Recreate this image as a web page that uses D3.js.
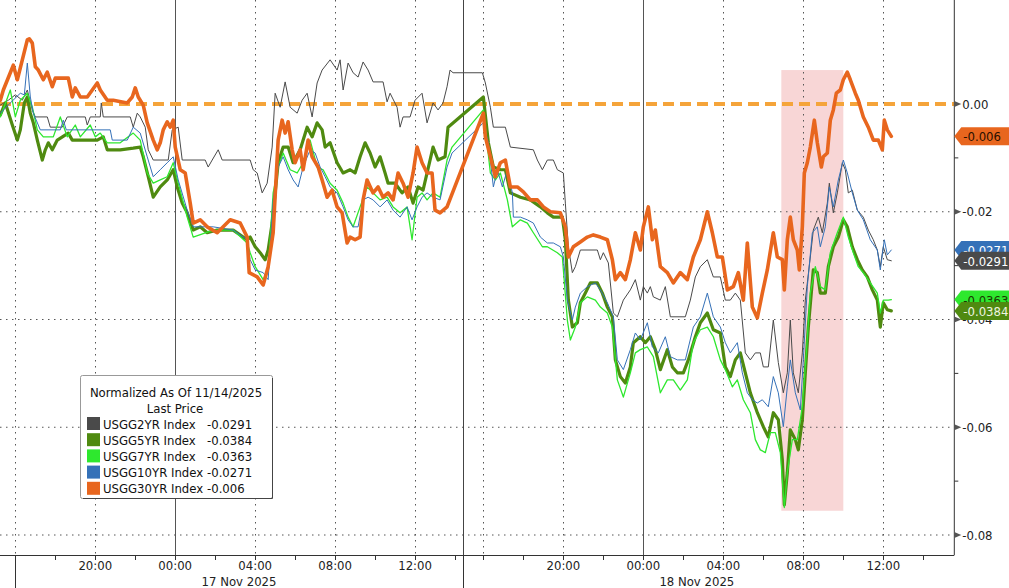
<!DOCTYPE html>
<html><head><meta charset="utf-8">
<script src="https://cdn.jsdelivr.net/npm/d3@7"></script>
<style>
html,body{margin:0;padding:0;background:#fff;}
svg{display:block;font-family:"DejaVu Sans Condensed","DejaVu Sans",sans-serif;font-stretch:condensed;}
</style></head><body>
<svg id="chart" width="1009" height="588"></svg>
<script>
// time = minutes from 17 Nov 2025 00:00 ; value = normalized change since 11/14/2025
const usgg2yr = [[-525,-0.0002],[-501,0.0007],[-480,0.0017],[-459,0.0007],[-444,0.0026],[-429,-0.0011],[-420,-0.0024],[-384,-0.0024],[-375,-0.0043],[-339,-0.0043],[-324,-0.0024],[-270,-0.0024],[-264,-0.0039],[-255,-0.0024],[-225,-0.0024],[-222,0.0002],[-216,-0.0024],[-135,-0.0024],[-126,-0.0043],[-114,-0.0017],[-105,-0.0024],[-90,-0.0043],[-81,-0.0085],[-66,-0.0104],[-21,-0.0104],[-9,-0.0048],[9,-0.0043],[21,-0.0104],[90,-0.0104],[99,-0.0117],[111,-0.0104],[129,-0.0085],[141,-0.0104],[225,-0.0104],[234,-0.0122],[246,-0.0128],[261,-0.0165],[276,-0.0147],[291,-0.0080],[300,0.0020],[315,-0.0006],[330,0.0041],[345,-0.0006],[366,-0.0017],[381,0.0007],[396,0.0020],[411,-0.0024],[426,0.0039],[441,0.0063],[465,0.0082],[486,0.0063],[495,0.0082],[504,0.0026],[519,0.0076],[534,0.0058],[549,0.0050],[564,0.0078],[579,0.0063],[594,0.0041],[624,0.0041],[636,0.0004],[645,0.0020],[666,-0.0006],[675,-0.0043],[684,-0.0024],[705,-0.0024],[720,0.0007],[741,0.0020],[756,-0.0035],[774,0.0002],[789,-0.0011],[804,0.0002],[816,0.0032],[825,0.0063],[834,0.0058],
[957,0.0058],[966,0.0039],[981,-0.0006],[990,-0.0043],[1026,-0.0043],[1041,-0.0080],[1110,-0.0085],[1122,-0.0104],[1137,-0.0122],[1152,-0.0104],[1170,-0.0104],[1182,-0.0122],[1200,-0.0128],[1206,-0.0184],[1215,-0.0265],[1227,-0.0313],[1236,-0.0302],[1251,-0.0271],[1302,-0.0271],[1311,-0.0289],[1320,-0.0276],[1335,-0.0295],[1350,-0.0388],[1362,-0.0395],[1380,-0.0364],[1401,-0.0345],[1416,-0.0326],[1431,-0.0364],[1440,-0.0339],[1452,-0.0351],[1461,-0.0339],[1470,-0.0358],[1491,-0.0364],[1506,-0.0339],[1521,-0.0395],[1566,-0.0395],[1581,-0.0364],[1596,-0.0321],[1611,-0.0302],[1632,-0.0289],[1650,-0.0321],[1671,-0.0321],[1686,-0.0364],[1701,-0.0364],[1716,-0.0351],[1731,-0.0364],[1746,-0.0462],[1761,-0.0475],[1776,-0.0462],[1791,-0.0462],[1800,-0.0488],[1815,-0.0488],[1830,-0.0401],[1845,-0.0480],[1860,-0.0536],[1872,-0.0499],[1881,-0.0401],[1890,-0.0499],[1905,-0.0536],[1917,-0.0462],[1926,-0.0364],[1941,-0.0284],[1950,-0.0234],[1965,-0.0210],[1977,-0.0239],[1992,-0.0184],[1998,-0.0147],[2010,-0.0202],[2022,-0.0165],[2037,-0.0109],[2046,-0.0122],[2055,-0.0165],[2067,-0.0160],[2082,-0.0197],[2100,-0.0210],[2115,-0.0234],[2130,-0.0252],[2142,-0.0271],[2151,-0.0302],[2160,-0.0265],[2172,-0.0289],[2184,-0.0291]];

const usgg5yr = [[-525,-0.0020],[-510,0.0002],[-489,-0.0039],[-474,-0.0067],[-465,-0.0048],[-453,0.0002],[-444,0.0013],[-435,-0.0017],[-426,-0.0035],[-414,-0.0067],[-399,-0.0104],[-390,-0.0085],[-381,-0.0072],[-369,-0.0085],[-354,-0.0067],[-321,-0.0054],[-309,-0.0067],[-234,-0.0067],[-216,-0.0061],[-204,-0.0085],[-165,-0.0085],[-126,-0.0082],[-105,-0.0080],[-96,-0.0098],[-81,-0.0135],[-66,-0.0173],[-45,-0.0154],[-24,-0.0141],[-6,-0.0122],[6,-0.0154],[21,-0.0184],[36,-0.0202],[54,-0.0234],[75,-0.0228],[96,-0.0239],[126,-0.0234],[174,-0.0234],[216,-0.0252],[225,-0.0247],[240,-0.0265],[255,-0.0276],[270,-0.0289],[279,-0.0271],[291,-0.0221],[300,-0.0165],[309,-0.0109],[324,-0.0080],[339,-0.0080],[354,-0.0109],[375,-0.0085],[396,-0.0043],[411,-0.0061],[426,-0.0035],[441,-0.0048],[450,-0.0080],[465,-0.0072],[486,-0.0109],[504,-0.0128],[525,-0.0122],[540,-0.0128],[555,-0.0098],[570,-0.0072],[585,-0.0091],[600,-0.0117],[615,-0.0098],[630,-0.0128],[639,-0.0147],[660,-0.0147],[681,-0.0165],[699,-0.0154],[714,-0.0184],[729,-0.0154],[744,-0.0160],[765,-0.0104],[774,-0.0080],[789,-0.0104],[810,-0.0098],[819,-0.0043],
[960,0.0013],[975,-0.0072],[990,-0.0117],[1011,-0.0122],[1026,-0.0122],[1041,-0.0165],[1071,-0.0173],[1101,-0.0178],[1131,-0.0191],[1152,-0.0202],[1170,-0.0210],[1197,-0.0210],[1206,-0.0252],[1215,-0.0364],[1227,-0.0414],[1242,-0.0406],[1251,-0.0369],[1266,-0.0351],[1281,-0.0332],[1302,-0.0332],[1317,-0.0351],[1332,-0.0377],[1347,-0.0395],[1356,-0.0475],[1371,-0.0506],[1386,-0.0518],[1401,-0.0488],[1410,-0.0443],[1431,-0.0432],[1446,-0.0443],[1461,-0.0432],[1476,-0.0456],[1491,-0.0493],[1512,-0.0456],[1527,-0.0488],[1542,-0.0499],[1560,-0.0499],[1575,-0.0475],[1596,-0.0432],[1611,-0.0406],[1632,-0.0388],[1650,-0.0419],[1671,-0.0425],[1686,-0.0488],[1701,-0.0506],[1716,-0.0475],[1731,-0.0462],[1746,-0.0499],[1761,-0.0536],[1782,-0.0573],[1800,-0.0599],[1815,-0.0618],[1830,-0.0573],[1845,-0.0586],[1857,-0.0660],[1863,-0.0744],[1872,-0.0684],[1881,-0.0605],[1896,-0.0623],[1905,-0.0642],[1917,-0.0586],[1926,-0.0499],[1935,-0.0414],[1950,-0.0308],[1962,-0.0313],[1971,-0.0351],[1986,-0.0351],[1995,-0.0302],[2010,-0.0265],[2025,-0.0247],[2040,-0.0215],[2052,-0.0228],[2067,-0.0265],[2082,-0.0289],[2097,-0.0308],[2112,-0.0321],[2127,-0.0345],[2142,-0.0364],[2151,-0.0414],[2160,-0.0369],[2172,-0.0382],[2184,-0.0384]];

const usgg7yr = [[-525,-0.0024],[-495,0.0026],[-480,-0.0024],[-465,0.0007],[-444,0.0020],[-429,-0.0006],[-414,-0.0048],[-396,-0.0061],[-366,-0.0061],[-345,-0.0024],[-324,-0.0061],[-300,-0.0039],[-285,-0.0061],[-255,-0.0039],[-240,-0.0061],[-225,-0.0054],[-204,-0.0072],[-165,-0.0072],[-126,-0.0054],[-105,-0.0067],[-84,-0.0128],[-66,-0.0147],[-45,-0.0141],[-24,-0.0135],[-6,-0.0109],[9,-0.0147],[36,-0.0210],[54,-0.0247],[114,-0.0234],[174,-0.0234],[216,-0.0258],[225,-0.0276],[240,-0.0302],[264,-0.0326],[279,-0.0308],[294,-0.0165],[309,-0.0117],[324,-0.0091],[345,-0.0122],[366,-0.0128],[384,-0.0109],[405,-0.0067],[426,-0.0117],[444,-0.0122],[465,-0.0147],[486,-0.0160],[504,-0.0184],[519,-0.0210],[534,-0.0228],[555,-0.0191],[576,-0.0154],[594,-0.0165],[615,-0.0178],[636,-0.0173],[654,-0.0191],[675,-0.0202],[696,-0.0191],[711,-0.0252],[726,-0.0173],[741,-0.0165],[756,-0.0178],[774,-0.0165],[795,-0.0173],[816,-0.0104],[831,-0.0080],
[960,-0.0011],[981,-0.0128],[996,-0.0141],[1011,-0.0128],[1032,-0.0178],[1047,-0.0228],[1071,-0.0215],[1092,-0.0221],[1110,-0.0239],[1137,-0.0265],[1152,-0.0265],[1182,-0.0276],[1197,-0.0284],[1212,-0.0401],[1221,-0.0438],[1236,-0.0414],[1251,-0.0369],[1272,-0.0358],[1296,-0.0364],[1311,-0.0377],[1332,-0.0388],[1347,-0.0414],[1362,-0.0512],[1380,-0.0544],[1401,-0.0499],[1416,-0.0462],[1431,-0.0456],[1452,-0.0451],[1470,-0.0469],[1491,-0.0536],[1512,-0.0512],[1530,-0.0512],[1551,-0.0531],[1572,-0.0512],[1590,-0.0443],[1611,-0.0419],[1632,-0.0414],[1650,-0.0432],[1671,-0.0475],[1686,-0.0493],[1707,-0.0525],[1722,-0.0512],[1740,-0.0549],[1761,-0.0573],[1776,-0.0623],[1791,-0.0642],[1806,-0.0647],[1821,-0.0610],[1836,-0.0610],[1851,-0.0647],[1863,-0.0749],[1872,-0.0684],[1887,-0.0623],[1902,-0.0623],[1917,-0.0562],[1929,-0.0462],[1941,-0.0351],[1956,-0.0302],[1971,-0.0339],[1986,-0.0345],[2001,-0.0276],[2022,-0.0239],[2040,-0.0210],[2055,-0.0247],[2070,-0.0276],[2085,-0.0302],[2100,-0.0313],[2121,-0.0332],[2142,-0.0351],[2151,-0.0388],[2160,-0.0364],[2175,-0.0364],[2184,-0.0363]];

const usgg10yr = [[-525,-0.0017],[-495,0.0002],[-465,0.0020],[-453,0.0017],[-444,0.0076],[-435,0.0013],[-426,-0.0017],[-405,-0.0048],[-345,-0.0048],[-336,-0.0030],[-327,-0.0048],[-195,-0.0048],[-189,-0.0067],[-144,-0.0067],[-126,-0.0043],[-105,-0.0054],[-84,-0.0098],[-66,-0.0135],[-45,-0.0122],[-24,-0.0109],[-6,-0.0098],[9,-0.0141],[36,-0.0197],[54,-0.0228],[114,-0.0228],[174,-0.0234],[216,-0.0252],[225,-0.0289],[240,-0.0308],[264,-0.0313],[279,-0.0326],[294,-0.0178],[309,-0.0117],[324,-0.0098],[339,-0.0122],[354,-0.0141],[369,-0.0154],[384,-0.0117],[405,-0.0085],[420,-0.0091],[435,-0.0117],[450,-0.0135],[465,-0.0154],[486,-0.0165],[504,-0.0191],[519,-0.0215],[534,-0.0228],[549,-0.0228],[564,-0.0178],[579,-0.0173],[594,-0.0178],[615,-0.0191],[636,-0.0178],[654,-0.0197],[675,-0.0210],[696,-0.0191],[711,-0.0215],[726,-0.0191],[741,-0.0173],[756,-0.0165],[774,-0.0173],[795,-0.0178],[816,-0.0117],[831,-0.0091],
[960,-0.0035],[975,-0.0072],[990,-0.0154],[1002,-0.0122],[1017,-0.0154],[1032,-0.0122],[1047,-0.0165],[1050,-0.0210],[1071,-0.0210],[1092,-0.0215],[1110,-0.0221],[1131,-0.0247],[1152,-0.0258],[1170,-0.0258],[1191,-0.0265],[1200,-0.0284],[1212,-0.0364],[1227,-0.0401],[1236,-0.0377],[1251,-0.0351],[1272,-0.0339],[1296,-0.0332],[1311,-0.0345],[1332,-0.0369],[1350,-0.0395],[1362,-0.0475],[1380,-0.0493],[1401,-0.0456],[1416,-0.0425],[1431,-0.0438],[1452,-0.0406],[1467,-0.0451],[1485,-0.0462],[1506,-0.0432],[1521,-0.0469],[1542,-0.0475],[1566,-0.0475],[1590,-0.0414],[1611,-0.0395],[1632,-0.0351],[1650,-0.0395],[1671,-0.0414],[1686,-0.0443],[1701,-0.0462],[1722,-0.0443],[1737,-0.0499],[1752,-0.0536],[1767,-0.0549],[1782,-0.0555],[1797,-0.0549],[1815,-0.0562],[1830,-0.0506],[1845,-0.0536],[1860,-0.0599],[1872,-0.0525],[1881,-0.0475],[1896,-0.0536],[1911,-0.0568],[1920,-0.0475],[1932,-0.0339],[1947,-0.0239],[1962,-0.0228],[1971,-0.0265],[1986,-0.0228],[1998,-0.0154],[2010,-0.0191],[2025,-0.0141],[2040,-0.0104],[2052,-0.0128],[2067,-0.0165],[2082,-0.0197],[2100,-0.0215],[2121,-0.0252],[2142,-0.0271],[2151,-0.0308],[2163,-0.0252],[2172,-0.0280],[2184,-0.0271]];

const usgg30yr = [[-525,0.0007],[-516,0.0026],[-486,0.0072],[-474,0.0045],[-459,0.0082],[-444,0.0119],[-438,0.0121],[-429,0.0113],[-420,0.0069],[-411,0.0063],[-396,0.0045],[-384,0.0059],[-369,0.0032],[-360,0.0048],[-321,0.0048],[-309,0.0013],[-300,0.0030],[-285,0.0013],[-264,0.0013],[-234,0.0039],[-225,0.0026],[-204,0.0007],[-186,0.0007],[-144,0.0002],[-129,0.0013],[-120,0.0030],[-111,0.0013],[-96,-0.0002],[-84,-0.0035],[-66,-0.0067],[-54,-0.0085],[-45,-0.0072],[-36,-0.0048],[-24,-0.0033],[-15,-0.0043],[-6,-0.0030],[0,-0.0080],[15,-0.0122],[30,-0.0128],[45,-0.0184],[54,-0.0221],[75,-0.0215],[96,-0.0228],[126,-0.0239],[165,-0.0215],[195,-0.0221],[216,-0.0247],[222,-0.0313],[246,-0.0321],[264,-0.0336],[279,-0.0302],[294,-0.0239],[309,-0.0067],[321,-0.0030],[330,-0.0054],[339,-0.0033],[351,-0.0085],[360,-0.0109],[375,-0.0085],[384,-0.0122],[399,-0.0067],[411,-0.0098],[429,-0.0117],[441,-0.0141],[456,-0.0173],[471,-0.0160],[486,-0.0191],[501,-0.0202],[516,-0.0258],[525,-0.0247],[540,-0.0252],[555,-0.0247],[564,-0.0178],[576,-0.0141],[594,-0.0165],[609,-0.0154],[624,-0.0173],[639,-0.0165],[654,-0.0178],[669,-0.0128],[684,-0.0147],[699,-0.0173],[714,-0.0128],[726,-0.0080],[741,-0.0109],[756,-0.0128],[771,-0.0128],[780,-0.0197],[795,-0.0202],[816,-0.0191],
[960,-0.0017],[966,-0.0061],[981,-0.0098],[996,-0.0135],[1011,-0.0109],[1026,-0.0104],[1041,-0.0154],[1062,-0.0154],[1080,-0.0163],[1101,-0.0178],[1122,-0.0178],[1140,-0.0191],[1161,-0.0200],[1191,-0.0202],[1206,-0.0228],[1215,-0.0284],[1230,-0.0265],[1251,-0.0256],[1272,-0.0247],[1290,-0.0243],[1311,-0.0247],[1332,-0.0252],[1347,-0.0289],[1356,-0.0326],[1371,-0.0313],[1386,-0.0326],[1401,-0.0289],[1416,-0.0239],[1431,-0.0271],[1440,-0.0228],[1455,-0.0191],[1467,-0.0252],[1476,-0.0234],[1491,-0.0302],[1512,-0.0313],[1530,-0.0332],[1551,-0.0313],[1572,-0.0326],[1590,-0.0284],[1611,-0.0252],[1632,-0.0200],[1647,-0.0239],[1662,-0.0284],[1677,-0.0284],[1692,-0.0345],[1710,-0.0339],[1725,-0.0313],[1740,-0.0364],[1752,-0.0258],[1767,-0.0377],[1782,-0.0397],[1797,-0.0351],[1812,-0.0308],[1830,-0.0239],[1842,-0.0284],[1857,-0.0289],[1863,-0.0345],[1872,-0.0252],[1881,-0.0210],[1890,-0.0252],[1902,-0.0271],[1908,-0.0308],[1917,-0.0228],[1923,-0.0128],[1932,-0.0109],[1941,-0.0080],[1953,-0.0030],[1962,-0.0072],[1974,-0.0117],[1980,-0.0098],[1992,-0.0091],[2001,-0.0030],[2010,-0.0011],[2019,0.0020],[2031,0.0026],[2040,0.0045],[2052,0.0059],[2061,0.0045],[2076,0.0020],[2085,0.0007],[2100,-0.0024],[2115,-0.0043],[2130,-0.0067],[2145,-0.0067],[2157,-0.0085],[2163,-0.0030],[2172,-0.0048],[2184,-0.0060]];

const seriesNames = ["USGG2YR Index","USGG5YR Index","USGG7YR Index","USGG10YR Index","USGG30YR Index"];
const lastPrices = [-0.0291,-0.0384,-0.0363,-0.0271,-0.006];
const lastPriceLabels = ["-0.0291","-0.0384","-0.0363","-0.0271","-0.006"];
const legendTitle = "Normalized As Of 11/14/2025";
const legendSubtitle = "Last Price";

const yTickValues = [0,-0.02,-0.04,-0.06,-0.08];
const yTickLabels = ["0.00","-0.02","-0.04","-0.06","-0.08"];
const yMinorValues = [-0.01,-0.03,-0.05,-0.07];
const hourTicks = [-240,0,240,480,720,1200,1440,1680,1920,2160];
const hourLabels = ["20:00","00:00","04:00","08:00","12:00","20:00","00:00","04:00","08:00","12:00"];
const minorTicks = [-360,-120,120,360,600,840,960,1080,1320,1560,1800,2040,2280];
const dottedGridTimes = [-480,-240,240,480,720,960,1200,1680,1920,2160];
const solidGridTimes = [0,1440];
const sessionLabels = ["17 Nov 2025","18 Nov 2025"];
const sessionStarts = [-480, 898];
const sessionEnds = [863, 2303];
const highlightTimes = [1854, 2040];
const highlightValues = [0.0063, -0.0755];
const baselineValue = 0;

// ---- styles ----
const seriesData = [usgg2yr, usgg5yr, usgg7yr, usgg10yr, usgg30yr];
const colors = ["#4a4a4a","#4f8a10","#2ee82e","#3571b8","#e8661e"];
const widths = [1, 3.2, 1.3, 1, 3.6];
const tagText = ["#ffffff","#eef5e0","#1a3a00","#ffffff","#2a1000"];
const tagOrder = [3,0,2,1,4];

const W = 1009, H = 588;
const axisX = 954.3, axisY = 555;
const x = d3.scaleLinear().domain([-526, 863, 898, 2373]).range([0, 462.7, 462.7, axisX]);
const y = d3.scaleLinear().domain([-0.08, 0]).range([535, 104]);

const svg = d3.select("#chart");
svg.append("rect").attr("width", W).attr("height", H).attr("fill", "#fff");

// highlight band
svg.append("rect")
  .attr("x", x(highlightTimes[0])).attr("width", x(highlightTimes[1]) - x(highlightTimes[0]))
  .attr("y", y(highlightValues[0])).attr("height", y(highlightValues[1]) - y(highlightValues[0]))
  .attr("fill", "#f7cfcf").attr("opacity", 0.85);

// grid
const grid = svg.append("g");
grid.selectAll(".hg").data(yTickValues.filter(v => v !== 0)).join("line")
  .attr("x1", 0).attr("x2", axisX).attr("y1", d => y(d)).attr("y2", d => y(d))
  .attr("stroke", "#555").attr("stroke-width", 1).attr("stroke-dasharray", "1.5,4.5");
grid.selectAll(".vg").data(dottedGridTimes).join("line")
  .attr("x1", d => Math.round(x(d)) + 0.5).attr("x2", d => Math.round(x(d)) + 0.5)
  .attr("y1", 0).attr("y2", axisY)
  .attr("stroke", "#555").attr("stroke-width", 1).attr("stroke-dasharray", "1.5,4.5");
grid.selectAll(".vs").data(solidGridTimes).join("line")
  .attr("x1", d => Math.round(x(d)) + 0.5).attr("x2", d => Math.round(x(d)) + 0.5)
  .attr("y1", 0).attr("y2", axisY)
  .attr("stroke", "#555").attr("stroke-width", 1);
// session break line
grid.selectAll(".sb").data(sessionEnds.slice(0, 1)).join("line")
  .attr("x1", d => Math.round(x(d)) + 0.5).attr("x2", d => Math.round(x(d)) + 0.5)
  .attr("y1", 0).attr("y2", H)
  .attr("stroke", "#444").attr("stroke-width", 1);

// zero reference dashed line
svg.append("line")
  .attr("x1", 0).attr("x2", axisX).attr("y1", y(baselineValue)).attr("y2", y(baselineValue))
  .attr("stroke", "#f5a43a").attr("stroke-width", 4).attr("stroke-dasharray", "11,6");

// series lines
const line = d3.line().x(d => x(d[0])).y(d => y(d[1])).curve(d3.curveLinear);
seriesData.forEach((s, i) => {
  svg.append("path").datum(s).attr("d", line)
    .attr("fill", "none").attr("stroke", colors[i]).attr("stroke-width", widths[i])
    .attr("stroke-linejoin", "round").attr("stroke-linecap", "round");
});

// right axis
svg.append("line").attr("x1", axisX).attr("x2", axisX).attr("y1", 0).attr("y2", axisY)
  .attr("stroke", "#333").attr("stroke-width", 1);
svg.selectAll(".ymin").data(yMinorValues).join("line")
  .attr("x1", axisX).attr("x2", axisX + 4).attr("y1", d => y(d)).attr("y2", d => y(d))
  .attr("stroke", "#333");
svg.selectAll(".ytri").data(yTickValues).join("path")
  .attr("d", d => `M${axisX},${y(d) - 3}L${axisX + 7},${y(d)}L${axisX},${y(d) + 3}Z`)
  .attr("fill", "#555");
svg.selectAll(".ylab").data(yTickValues).join("text")
  .attr("x", axisX + 8).attr("y", d => y(d) + 4.5)
  .attr("font-size", 13).attr("fill", "#222")
  .text((d, i) => yTickLabels[i]);

// bottom axis
svg.append("line").attr("x1", 0).attr("x2", axisX).attr("y1", axisY + 0.5).attr("y2", axisY + 0.5)
  .attr("stroke", "#333");
svg.selectAll(".xt").data(hourTicks.concat(minorTicks)).join("line")
  .attr("x1", d => Math.round(x(d)) + 0.5).attr("x2", d => Math.round(x(d)) + 0.5)
  .attr("y1", axisY).attr("y2", axisY + 5).attr("stroke", "#333");
svg.selectAll(".xsep").data(sessionStarts).join("line")
  .attr("x1", d => Math.round(x(d)) + 0.5).attr("x2", d => Math.round(x(d)) + 0.5)
  .attr("y1", axisY).attr("y2", H).attr("stroke", "#333");
svg.selectAll(".xlab").data(hourTicks).join("text")
  .attr("x", d => x(d)).attr("y", axisY + 15)
  .attr("text-anchor", "middle").attr("font-size", 13).attr("fill", "#222")
  .text((d, i) => hourLabels[i]);
svg.selectAll(".dlab").data(sessionLabels).join("text")
  .attr("x", (d, i) => (x(sessionStarts[i]) + x(sessionEnds[i])) / 2).attr("y", axisY + 31)
  .attr("text-anchor", "middle").attr("font-size", 13).attr("fill", "#222")
  .text(d => d);

// last-price tags
tagOrder.forEach(i => {
  const ty = y(lastPrices[i]);
  svg.append("path")
    .attr("d", `M${axisX},${ty}L${axisX + 7},${ty - 9}L${W},${ty - 9}L${W},${ty + 9}L${axisX + 7},${ty + 9}Z`)
    .attr("fill", colors[i]);
  svg.append("text").attr("x", axisX + 9).attr("y", ty + 5)
    .attr("font-size", 13).attr("fill", tagText[i]).text(lastPriceLabels[i]);
});

// legend
const lg = svg.append("g");
lg.append("rect").attr("x", 80.5).attr("y", 375.5).attr("width", 192).attr("height", 123)
  .attr("fill", "#fff").attr("stroke", "#999").attr("rx", 2);
lg.append("path").attr("d", "M272.5,378 L272.5,498.5 L83,498.5").attr("fill", "none").attr("stroke", "#444");
lg.append("text").attr("x", 176).attr("y", 397).attr("text-anchor", "middle")
  .attr("font-size", 13).attr("fill", "#111").text(legendTitle);
lg.append("text").attr("x", 175).attr("y", 413).attr("text-anchor", "middle")
  .attr("font-size", 13).attr("fill", "#111").text(legendSubtitle);
seriesNames.forEach((n, i) => {
  const cy = 423.5 + i * 16.2;
  lg.append("rect").attr("x", 87).attr("y", cy - 6.5).attr("width", 13).attr("height", 13).attr("fill", colors[i]);
  lg.append("text").attr("x", 103).attr("y", cy + 5).attr("font-size", 13).attr("fill", "#111").text(n);
  lg.append("text").attr("x", 207).attr("y", cy + 5).attr("font-size", 13).attr("fill", "#111").text(lastPriceLabels[i]);
});
</script>
</body></html>
